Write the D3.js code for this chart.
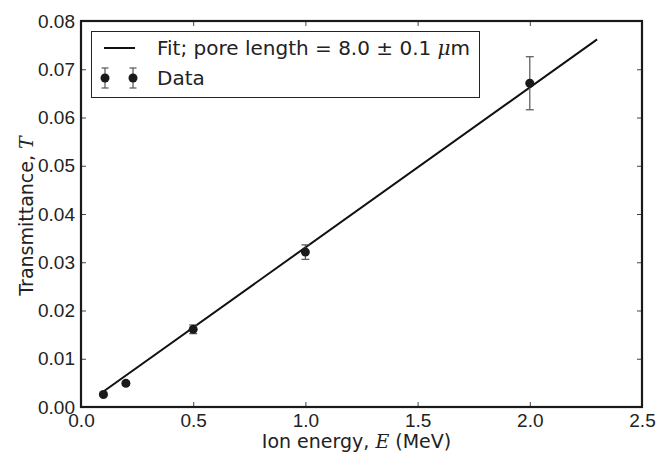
<!DOCTYPE html>
<html>
<head>
<meta charset="utf-8">
<script src="https://cdn.jsdelivr.net/npm/d3@7"></script>
<style>
  body { margin: 0; background: #fff; }
  svg { font-family: "DejaVu Sans", sans-serif; }
  .math { font-family: "DejaVu Serif", serif; font-style: italic; }
</style>
</head>
<body>
<svg id="chart" width="657" height="453"></svg>
<script>
'use strict';

// data
var energy = [0.1, 0.2, 0.5, 1.0, 2.0];
var transmittance = [0.0026, 0.0049, 0.0161, 0.0321, 0.0671];
var errors = [0.0003, 0.0004, 0.0009, 0.0015, 0.0055];

var fitEnergy = [0.1, 2.3];
var fitT = [0.0032, 0.0762];

var xTicks = [0.0, 0.5, 1.0, 1.5, 2.0, 2.5];
var yTicks = [0.00, 0.01, 0.02, 0.03, 0.04, 0.05, 0.06, 0.07, 0.08];

var fontSize = "19px";

var svg = d3.select("#chart");
var margin = { left: 81, right: 15, top: 21, bottom: 46 };
var width = 657 - margin.left - margin.right,
  height = 453 - margin.top - margin.bottom;

var g = svg.append("g").attr("transform", "translate(" + margin.left + "," + margin.top + ")");

var x = d3.scaleLinear().domain([0, 2.5]).range([0, width]);
var y = d3.scaleLinear().domain([0, 0.08]).range([height, 0]);

//
// axes, ticks inward on all four sides
//
var tickLen = 5;
g.append("g").attr("transform", "translate(0," + height + ")")
  .call(d3.axisBottom(x).tickValues(xTicks).tickFormat(d3.format(".1f")).tickSizeInner(-tickLen).tickSizeOuter(0).tickPadding(7));
g.append("g")
  .call(d3.axisLeft(y).tickValues(yTicks).tickFormat(d3.format(".2f")).tickSizeInner(-tickLen).tickSizeOuter(0).tickPadding(6));
g.append("g")
  .call(d3.axisTop(x).tickValues(xTicks).tickFormat("").tickSizeInner(-tickLen).tickSizeOuter(0));
g.append("g").attr("transform", "translate(" + width + ",0)")
  .call(d3.axisRight(y).tickValues(yTicks).tickFormat("").tickSizeInner(-tickLen).tickSizeOuter(0));

g.selectAll(".domain").remove();
g.selectAll(".tick line").attr("stroke", "#444").attr("stroke-width", 1);
g.selectAll(".tick text").attr("fill", "#222").style("font-size", fontSize);

g.append("rect")
  .attr("width", width).attr("height", height)
  .attr("fill", "none").attr("stroke", "#1a1a1a").attr("stroke-width", 2.2);

//
// fit line
//
var line = d3.line().x(d => x(d[0])).y(d => y(d[1]));
g.append("path")
  .datum(d3.zip(fitEnergy, fitT))
  .attr("d", line)
  .attr("fill", "none").attr("stroke", "#111").attr("stroke-width", 2);

//
// data with error bars
//
var pts = energy.map((e, i) => ({ e: e, t: transmittance[i], err: errors[i] }));
var capW = 4;
var bars = g.append("g").selectAll("g").data(pts).enter().append("g");
bars.append("line")
  .attr("x1", d => x(d.e)).attr("x2", d => x(d.e))
  .attr("y1", d => y(d.t - d.err)).attr("y2", d => y(d.t + d.err));
bars.append("line")
  .attr("x1", d => x(d.e) - capW).attr("x2", d => x(d.e) + capW)
  .attr("y1", d => y(d.t + d.err)).attr("y2", d => y(d.t + d.err));
bars.append("line")
  .attr("x1", d => x(d.e) - capW).attr("x2", d => x(d.e) + capW)
  .attr("y1", d => y(d.t - d.err)).attr("y2", d => y(d.t - d.err));
bars.selectAll("line").attr("stroke", "#555").attr("stroke-width", 1.2);
bars.append("circle")
  .attr("cx", d => x(d.e)).attr("cy", d => y(d.t))
  .attr("r", 4.5).attr("fill", "#1a1a1a");

//
// legend
//
var leg = svg.append("g");
leg.append("rect")
  .attr("x", 91.5).attr("y", 31.5).attr("width", 388).attr("height", 66)
  .attr("fill", "#fff").attr("stroke", "#222").attr("stroke-width", 1);
leg.append("line")
  .attr("x1", 104).attr("x2", 135).attr("y1", 48).attr("y2", 48)
  .attr("stroke", "#111").attr("stroke-width", 2);
var t1 = leg.append("text").attr("x", 157).attr("y", 55).attr("fill", "#222").style("font-size", "20px");
t1.append("tspan").text("Fit; pore length = 8.0 \u00b1 0.1 ");
t1.append("tspan").attr("class", "math").text("\u03bc");
t1.append("tspan").text("m");

[105, 133].forEach(cx => {
  var m = leg.append("g");
  m.append("line").attr("x1", cx).attr("x2", cx).attr("y1", 68).attr("y2", 88);
  m.append("line").attr("x1", cx - 3.5).attr("x2", cx + 3.5).attr("y1", 68).attr("y2", 68);
  m.append("line").attr("x1", cx - 3.5).attr("x2", cx + 3.5).attr("y1", 88).attr("y2", 88);
  m.selectAll("line").attr("stroke", "#555").attr("stroke-width", 1.2);
  m.append("circle").attr("cx", cx).attr("cy", 78).attr("r", 4.5).attr("fill", "#1a1a1a");
});
leg.append("text").attr("x", 157).attr("y", 85).attr("fill", "#222").style("font-size", "20px").text("Data");

//
// axis labels
//
var xl = svg.append("text")
  .attr("x", margin.left + width / 2 - 5).attr("y", 448)
  .attr("text-anchor", "middle").attr("fill", "#222").style("font-size", fontSize);
xl.append("tspan").text("Ion energy, ");
xl.append("tspan").attr("class", "math").text("E");
xl.append("tspan").text(" (MeV)");

var yl = svg.append("text")
  .attr("transform", "translate(33," + (margin.top + height / 2 + 2) + ") rotate(-90)")
  .attr("text-anchor", "middle").attr("fill", "#222").style("font-size", fontSize);
yl.append("tspan").text("Transmittance, ");
yl.append("tspan").attr("class", "math").text("T");
</script>
</body>
</html>
